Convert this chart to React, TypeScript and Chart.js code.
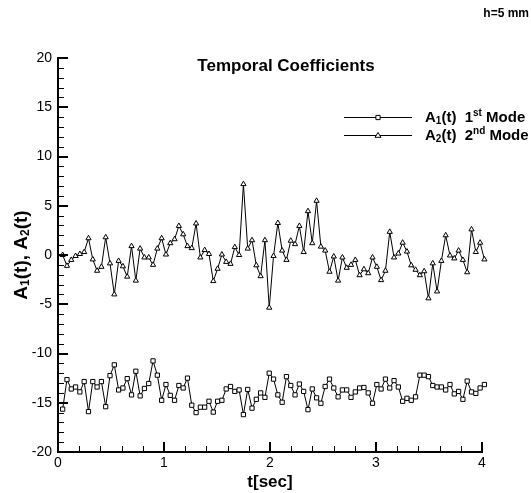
import React, { useEffect, useRef } from "react";
import { Chart, registerables } from "chart.js";

Chart.register(...registerables);

const T_START = 0.044;
const T_STEP = 0.0406;

const A1_VALUES = [
  -15.65, -12.65, -13.6, -13.4, -13.9, -12.85, -15.9, -12.85, -13.4, -12.85,
  -15.4, -12.25, -11.15, -13.7, -13.5, -12.55, -14.2, -11.8, -14.3, -13.55,
  -13.05, -10.75, -12.2, -14.75, -13.15, -14.25, -14.75, -13.25, -13.5, -12.5,
  -15.25, -16.0, -15.45, -15.45, -14.85, -15.95, -14.85, -14.75, -13.6, -13.35,
  -13.85, -13.7, -16.2, -13.65, -15.55, -14.65, -14.0, -14.45, -12.0, -12.6,
  -14.2, -14.95, -12.35, -13.25, -14.2, -13.1, -13.85, -15.7, -13.6, -14.5,
  -15.05, -13.35, -12.6, -13.5, -14.4, -13.7, -13.7, -14.45, -13.9, -13.5,
  -13.45, -14.0, -15.05, -13.15, -13.6, -12.6, -13.5, -12.75, -13.4, -14.85,
  -14.55, -14.75, -14.4, -12.2, -12.2, -12.35, -13.25, -13.4, -13.4, -13.7,
  -13.15, -14.1, -13.85, -14.65, -12.8, -13.9, -14.05, -13.5, -13.15, -15.4,
];

const A2_VALUES = [
  0.0, -1.1, -0.5, -0.1, 0.1, 0.3, 1.7, -0.45, -1.6, -1.2,
  1.8, -0.85, -4.0, -0.6, -1.15, -2.2, 0.9, -2.6, 0.65, -0.25,
  -0.25, -1.0, 0.65, 1.7, 0.05, 1.2, 1.6, 2.95, 2.1, 0.9,
  0.7, 3.2, -0.25, 0.5, 0.1, -2.65, -1.4, 0.05, -0.7, -0.9,
  0.8, 0.0, 7.2, 0.65, 1.5, -1.05, -2.15, 1.5, -5.35, -0.1,
  3.25, 0.45, -0.5, 1.45, 1.1, 2.95, 0.3, 4.45, 1.2, 5.5,
  0.85, 0.45, -1.7, -0.15, -2.6, -0.25, -1.3, -1.0, -0.5, -2.05,
  -1.45, -1.85, -0.25, -1.2, -2.55, -1.6, 2.35, -0.25, 0.15, 1.25,
  0.35, -1.05, -1.5, -2.05, -1.65, -4.4, -0.85, -3.7, -0.6, 2.0,
  -0.05, -0.35, 0.45, -0.5, -1.75, 2.6, 0.3, 1.25, -0.45, 2.0,
];

const X_TICKS = [0, 1, 2, 3, 4];
const Y_TICKS = [20, 15, 10, 5, 0, -5, -10, -15, -20];
const X_MINOR_STEP = 0.2;
const Y_MINOR_STEP = 1;

const TITLE = "Temporal Coefficients";
const HEADER = "h=5 mm";
const X_TITLE = "t[sec]";

const FONT = "'Liberation Sans', Arial, Helvetica, sans-serif";

type Part = { t: string; size: number; dy: number };

function partsWidth(ctx: CanvasRenderingContext2D, parts: Part[]) {
  let w = 0;
  for (const p of parts) {
    ctx.font = `bold ${p.size}px ${FONT}`;
    w += ctx.measureText(p.t).width;
  }
  return w;
}

function drawParts(ctx: CanvasRenderingContext2D, parts: Part[], x: number, y: number) {
  let cx = x;
  for (const p of parts) {
    ctx.font = `bold ${p.size}px ${FONT}`;
    ctx.fillText(p.t, cx, y + p.dy);
    cx += ctx.measureText(p.t).width;
  }
}

function drawMarker(ctx: CanvasRenderingContext2D, style: string, x: number, y: number, r: number) {
  ctx.save();
  ctx.fillStyle = "#fff";
  ctx.strokeStyle = "#000";
  ctx.lineWidth = 1;
  ctx.beginPath();
  if (style === "rect") {
    const s = Math.SQRT1_2 * r;
    ctx.rect(x - s, y - s, 2 * s, 2 * s);
  } else {
    ctx.moveTo(x, y - r);
    ctx.lineTo(x + r, y + r * 0.6);
    ctx.lineTo(x - r, y + r * 0.6);
    ctx.closePath();
  }
  ctx.fill();
  ctx.stroke();
  ctx.restore();
}

const decorPlugin = {
  id: "decor",
  afterDraw(chart: any) {
    const ctx: CanvasRenderingContext2D = chart.ctx;
    const xs = chart.scales.x;
    const ys = chart.scales.y;
    const left = chart.chartArea.left;
    const bottom = chart.chartArea.bottom;
    const top = chart.chartArea.top;
    const right = chart.chartArea.right;
    ctx.save();
    ctx.strokeStyle = "#000";
    ctx.fillStyle = "#000";

    // minor ticks
    ctx.lineWidth = 1;
    ctx.beginPath();
    for (let v = 0; v <= 4 + 1e-9; v += X_MINOR_STEP) {
      const px = Math.round(xs.getPixelForValue(v)) + 0.5;
      ctx.moveTo(px, bottom);
      ctx.lineTo(px, bottom - 6);
    }
    for (let v = -20; v <= 20 + 1e-9; v += Y_MINOR_STEP) {
      const py = Math.round(ys.getPixelForValue(v)) + 0.5;
      ctx.moveTo(left, py);
      ctx.lineTo(left + 6, py);
    }
    ctx.stroke();

    // major ticks
    ctx.lineWidth = 2;
    ctx.beginPath();
    for (const v of X_TICKS) {
      const px = Math.round(xs.getPixelForValue(v));
      ctx.moveTo(px, bottom);
      ctx.lineTo(px, bottom - 10);
    }
    for (const v of Y_TICKS) {
      const py = Math.round(ys.getPixelForValue(v));
      ctx.moveTo(left, py);
      ctx.lineTo(left + 10, py);
    }
    ctx.stroke();

    // axis lines
    ctx.lineWidth = 2;
    ctx.beginPath();
    ctx.moveTo(left, top - 1);
    ctx.lineTo(left, bottom);
    ctx.lineTo(right + 1, bottom);
    ctx.stroke();

    // tick labels
    ctx.font = `14px ${FONT}`;
    ctx.textAlign = "right";
    ctx.textBaseline = "middle";
    for (const v of Y_TICKS) {
      ctx.fillText(String(v), left - 6, ys.getPixelForValue(v));
    }
    ctx.textAlign = "center";
    ctx.textBaseline = "middle";
    for (const v of X_TICKS) {
      ctx.fillText(String(v), xs.getPixelForValue(v), bottom + 11);
    }

    // x title
    ctx.font = `bold 17px ${FONT}`;
    ctx.textBaseline = "middle";
    ctx.fillText(X_TITLE, 270, 482);

    // chart title
    ctx.font = `bold 17px ${FONT}`;
    ctx.fillText(TITLE, 286, 66);

    // header
    ctx.font = `bold 12px ${FONT}`;
    ctx.textAlign = "right";
    ctx.fillText(HEADER, 529, 14);

    // y title (rotated)
    const yParts: Part[] = [
      { t: "A", size: 19, dy: 0 },
      { t: "1", size: 12, dy: 4 },
      { t: "(t), A", size: 19, dy: 0 },
      { t: "2", size: 12, dy: 4 },
      { t: "(t)", size: 19, dy: 0 },
    ];
    ctx.save();
    ctx.translate(22, 255);
    ctx.rotate(-Math.PI / 2);
    ctx.textAlign = "left";
    ctx.textBaseline = "middle";
    const yw = partsWidth(ctx, yParts);
    drawParts(ctx, yParts, -yw / 2, 0);
    ctx.restore();

    // legend
    const legend = [
      { style: "rect", y: 117, parts: [
        { t: "A", size: 15, dy: 0 }, { t: "1", size: 10, dy: 3 }, { t: "(t)  1", size: 15, dy: 0 },
        { t: "st", size: 10, dy: -5 }, { t: " Mode", size: 15, dy: 0 },
      ] },
      { style: "triangle", y: 135, parts: [
        { t: "A", size: 15, dy: 0 }, { t: "2", size: 10, dy: 3 }, { t: "(t)  2", size: 15, dy: 0 },
        { t: "nd", size: 10, dy: -5 }, { t: " Mode", size: 15, dy: 0 },
      ] },
    ];
    ctx.textAlign = "left";
    ctx.textBaseline = "middle";
    for (const item of legend) {
      ctx.lineWidth = 1;
      ctx.beginPath();
      ctx.moveTo(344, item.y + 0.5);
      ctx.lineTo(412, item.y + 0.5);
      ctx.stroke();
      drawMarker(ctx, item.style, 378, item.y + 0.5, 3);
      ctx.fillStyle = "#000";
      drawParts(ctx, item.parts as Part[], 425, item.y + 1);
    }
    ctx.restore();
  },
};

export default function App() {
  const ref = useRef<HTMLCanvasElement | null>(null);
  useEffect(() => {
    if (!ref.current) return;
    const times = A1_VALUES.map((_, i) => T_START + i * T_STEP);
    const common = {
      borderColor: "#000",
      borderWidth: 1,
      pointRadius: 3,
      pointBackgroundColor: "#fff",
      pointBorderColor: "#000",
      pointBorderWidth: 1,
      tension: 0,
      fill: false,
      clip: false as any,
    };
    const chart = new Chart(ref.current, {
      type: "line",
      data: {
        datasets: [
          { ...common, label: "A1(t) 1st Mode", pointStyle: "rect", data: times.map((t, i) => ({ x: t, y: A1_VALUES[i] })) },
          { ...common, label: "A2(t) 2nd Mode", pointStyle: "triangle", data: times.map((t, i) => ({ x: t, y: A2_VALUES[i] })) },
        ],
      },
      options: {
        animation: false,
        responsive: false,
        devicePixelRatio: 1,
        events: [],
        layout: { padding: { left: 58, right: 49, top: 58, bottom: 41 } },
        scales: {
          x: { type: "linear", min: 0, max: 4, display: false },
          y: { type: "linear", min: -20, max: 20, display: false },
        },
        plugins: { legend: { display: false }, tooltip: { enabled: false }, title: { display: false } },
      },
      plugins: [decorPlugin],
    } as any);
    return () => chart.destroy();
  }, []);
  return (
    <div style={{ position: "absolute", left: 0, top: 0, width: 531, height: 493, background: "#fff" }}>
      <canvas ref={ref} width={531} height={493} style={{ display: "block" }} />
    </div>
  );
}
